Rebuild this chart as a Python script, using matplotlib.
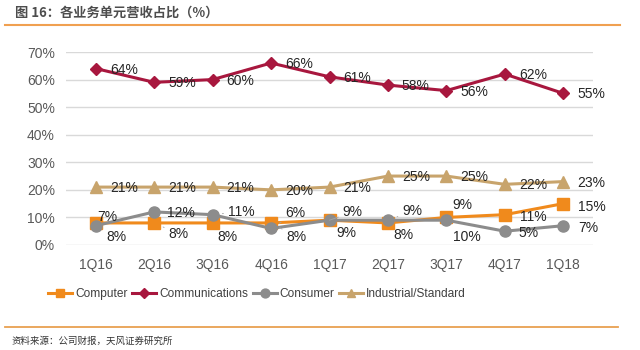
import matplotlib
matplotlib.use("Agg")
import matplotlib.pyplot as plt
from matplotlib.lines import Line2D

plt.rcParams['font.family'] = ['Liberation Sans', 'Noto Sans CJK SC', 'DejaVu Sans']

quarters = ['1Q16', '2Q16', '3Q16', '4Q16', '1Q17', '2Q17', '3Q17', '4Q17', '1Q18']
computer = [8, 8, 8, 8, 9, 8, 10, 11, 15]
communications = [64, 59, 60, 66, 61, 58, 56, 62, 55]
consumer = [7, 12, 11, 6, 9, 9, 9, 5, 7]
industrial = [21, 21, 21, 20, 21, 25, 25, 22, 23]
yticks = [0, 10, 20, 30, 40, 50, 60, 70]

title = '图 16：各业务单元营收占比（%）'
source = '资料来源：公司财报，天风证券研究所'

c_comp = '#F08A1C'
c_comm = '#A8173E'
c_cons = '#8C8C8C'
c_ind = '#C8A46C'

fig = plt.figure(figsize=(6.4, 3.5), dpi=100)
ax = fig.add_axes([66/640, 1-245/350, 527/640, (245-52)/350])

x = list(range(len(quarters)))
ax.plot(x, computer, color=c_comp, lw=2.2, marker='s', ms=8, label='Computer', zorder=3, clip_on=False)
ax.plot(x, communications, color=c_comm, lw=2.2, marker='D', ms=6.5, label='Communications', zorder=3, clip_on=False)
ax.plot(x, consumer, color=c_cons, lw=2.2, marker='o', ms=8, label='Consumer', zorder=4, clip_on=False)
ax.plot(x, industrial, color=c_ind, lw=2.2, marker='^', ms=8, label='Industrial/Standard', zorder=3, clip_on=False)

ax.set_xlim(-0.51, 8.51)
ax.set_ylim(0, 70)
ax.set_yticks(yticks)
ax.set_yticklabels([f'{v}%' for v in yticks])
ax.set_xticks(x)
ax.set_xticklabels(quarters)
ax.tick_params(axis='both', length=0, labelsize=10, colors='#595959')
ax.tick_params(axis='x', pad=9)
ax.tick_params(axis='y', pad=8)
ax.grid(axis='y', color='#D9D9D9', lw=1)
ax.set_axisbelow(True)
for s in ax.spines.values():
    s.set_visible(False)

lab_kw = dict(textcoords='offset pixels', fontsize=10, color='#262626', va='center', ha='left', zorder=6)

# communications & industrial labels: to the right
for i in x:
    ax.annotate(f'{communications[i]}%', (i, communications[i]), xytext=(14, -1), **lab_kw)
    ax.annotate(f'{industrial[i]}%', (i, industrial[i]), xytext=(14, -1), **lab_kw)

comp_off = [(11, -14), (14, -11), (5, -14), (15, -14), (7, -13), (5, -12), (7, -20), (15, -2), (15, -3)]
cons_off = [(1, 9), (13, -1), (15, 3), (14, 15), (13, 8), (14, 9), (6, 15), (14, -2), (15, -2)]
comp_lead = [False, True, False, True, False, False, False, False, False]
cons_lead = [False, False, True, True, True, True, False, False, False]

for i in x:
    ap = dict(arrowstyle='-', color='#A6A6A6', lw=0.6, shrinkA=1, shrinkB=7) if comp_lead[i] else None
    ax.annotate(f'{computer[i]}%', (i, computer[i]), xytext=comp_off[i], arrowprops=ap, **lab_kw)
    ap = dict(arrowstyle='-', color='#A6A6A6', lw=0.6, shrinkA=1, shrinkB=7) if cons_lead[i] else None
    ax.annotate(f'{consumer[i]}%', (i, consumer[i]), xytext=cons_off[i], arrowprops=ap, **lab_kw)

leg = fig.legend(loc='center', bbox_to_anchor=(257/640, 1-294/350), ncol=4, frameon=False,
                 fontsize=8.6, handlelength=2.0, columnspacing=0.4, handletextpad=0.25,
                 markerscale=0.8, labelcolor='#404040', borderpad=0, borderaxespad=0)

# header / footer
fig.text(15/640, 1-13/350, title, fontsize=9.5, fontweight='bold', color='#4D4D4D',
         va='center', ha='left', family=['Noto Sans CJK SC', 'DejaVu Sans'])
fig.add_artist(Line2D([5/640, 620/640], [1-24.5/350]*2, color='#F0A050', lw=1.5))
fig.add_artist(Line2D([5/640, 618/640], [1-327/350]*2, color='#E8A050', lw=1.3))
fig.text(12/640, 1-341/350, source, fontsize=6.8, color='#333333',
         va='center', ha='left', family=['Noto Sans CJK SC', 'DejaVu Sans'])

fig.savefig('out.png', dpi=100)
